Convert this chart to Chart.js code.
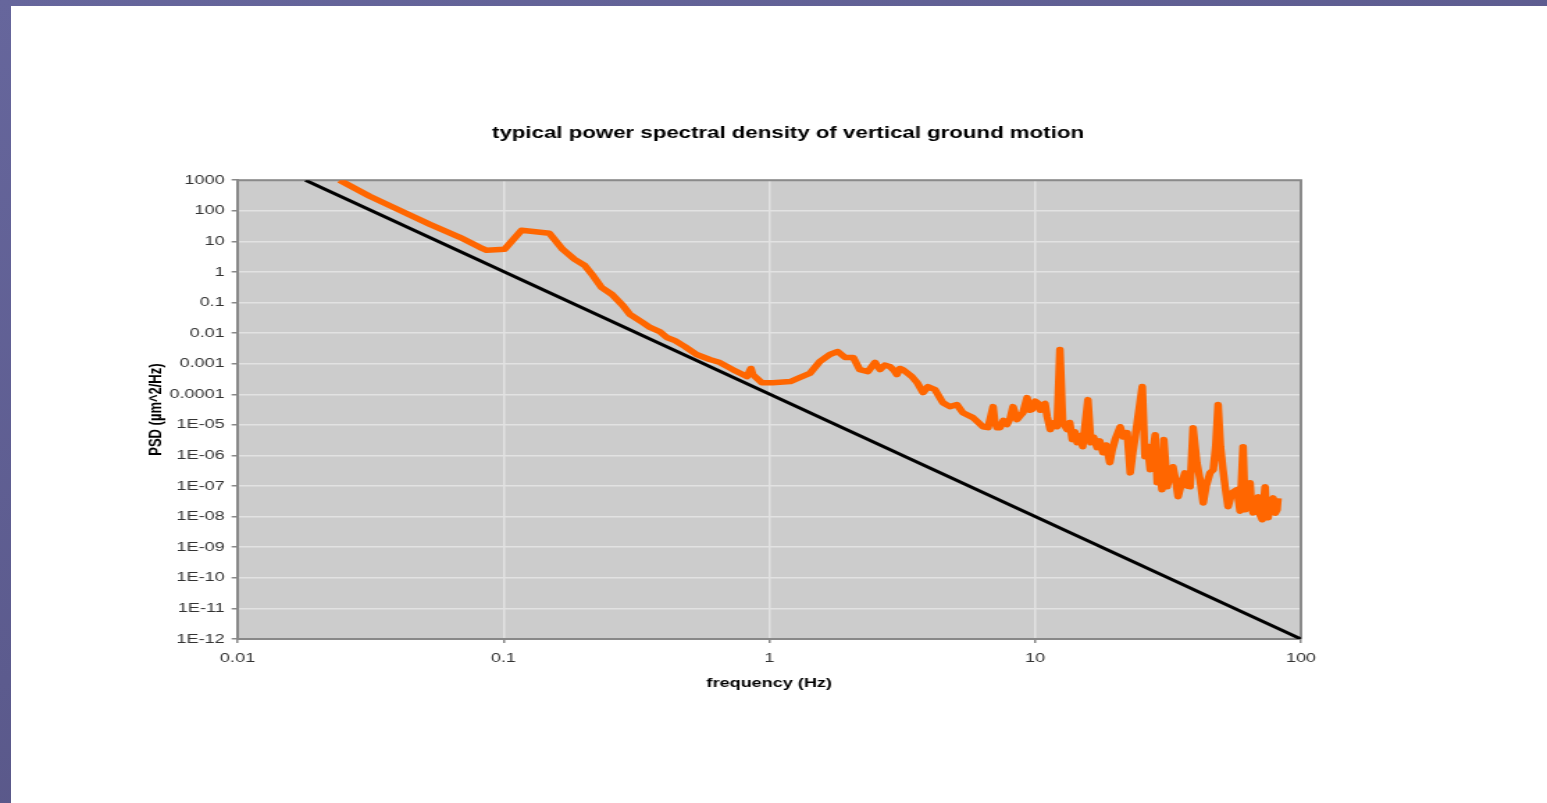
<!DOCTYPE html>
<html>
<head>
<meta charset="utf-8">
<script src="https://cdn.jsdelivr.net/npm/chart.js@4.4.1/dist/chart.umd.min.js"></script>
<style>
  html, body { margin: 0; padding: 0; }
  body {
    width: 1547px; height: 803px; overflow: hidden; position: relative;
    background: linear-gradient(160deg, #66669c 0%, #5c5b8e 50%, #524e7a 100%);
  }
  #slide { position: absolute; left: 11px; top: 6px; width: 1536px; height: 797px; background: #fff; overflow: hidden; }
  /* the slide picture is stretched sideways, so the chart is too */
  #stretch { width: 1105px; height: 797px; transform: scaleX(1.39); transform-origin: 0 0; }
</style>
</head>
<body>
<div id="slide"><div id="stretch"><canvas id="psdChart" width="1105" height="797" style="width:1105px;height:797px"></canvas></div></div>
<script>
const freq = [
    0.0242, 0.0314, 0.0407, 0.0529, 0.0686, 0.0815, 0.0865, 0.101, 0.117, 0.149,
    0.167, 0.185, 0.202, 0.217, 0.234, 0.256, 0.281, 0.299, 0.334, 0.356,
    0.387, 0.412, 0.442, 0.481, 0.533, 0.597, 0.652, 0.730, 0.824, 0.853,
    0.867, 0.938, 1.03, 1.20, 1.30, 1.42, 1.55, 1.69, 1.81, 1.93,
    2.07, 2.19, 2.35, 2.50, 2.61, 2.72, 2.84, 2.95, 3.02, 3.10,
    3.18, 3.30, 3.44, 3.60, 3.79, 3.95, 4.20, 4.50, 4.78, 5.08,
    5.35, 5.84, 6.37, 6.65, 6.95, 7.06, 7.20, 7.38, 7.60, 7.84,
    8.05, 8.26, 8.55, 8.80, 9.00, 9.33, 9.50, 9.73, 10.0, 10.2,
    10.45, 10.7, 10.9, 11.1, 11.4, 11.8, 12.1, 12.4, 12.7, 13.2,
    13.5, 13.8, 14.1, 14.4, 14.8, 15.1, 15.8, 16.2, 16.6, 17.1,
    17.5, 18.0, 18.5, 19.1, 19.5, 20.0, 20.9, 21.5, 22.2, 22.8,
    23.3, 23.8, 24.2, 25.3, 25.9, 26.5, 27.1, 27.7, 28.3, 28.8,
    29.4, 30.0, 30.5, 31.4, 32.2, 33.0, 33.8, 34.5, 35.5, 36.6,
    37.4, 38.3, 39.3, 40.6, 41.8, 42.9, 44.0, 45.5, 46.8, 47.8,
    48.8, 49.8, 50.9, 52.0, 53.2, 55.0, 57.5, 59.0, 60.6, 61.7,
    63.0, 64.4, 65.2, 66.1, 67.4, 68.2, 69.0, 70.3, 71.5, 73.3,
    74.2, 75.3, 76.8, 78.6, 80.0, 81.3, 82.0
];
const psd = [
    1000, 299, 104, 36, 13.6, 6.4, 5.1, 5.5, 23, 18.4,
    5.5, 2.6, 1.64, 0.77, 0.31, 0.185, 0.081, 0.041, 0.0223, 0.0153,
    0.0113, 0.0072, 0.0057, 0.00366, 0.0020, 0.00137, 0.00109, 0.00064, 0.00038, 0.00070,
    0.00044, 0.00024, 0.00024, 0.00026, 0.00035, 0.00048, 0.00118, 0.0020, 0.0025, 0.0016,
    0.0016, 0.00064, 0.00055, 0.0011, 0.00064, 0.0009, 0.00081, 0.0006, 0.00044, 0.0007,
    0.00064, 0.0005, 0.00038, 0.00024, 1.14e-4, 1.79e-4, 1.43e-4, 5.3e-5, 3.95e-5, 4.6e-5,
    2.5e-5, 1.73e-5, 8.7e-6, 8.1e-6, 3.95e-5, 1.18e-5, 8e-6, 8.1e-6, 1.4e-5, 1.02e-5,
    1.6e-5, 3.95e-5, 1.49e-5, 2e-5, 2.5e-5, 7.8e-5, 3e-5, 3.15e-5, 6e-5, 5.3e-5,
    3e-5, 4.6e-5, 5e-5, 1.86e-5, 7.0e-6, 1.2e-5, 8.7e-6, 0.0029, 1.18e-5, 7.0e-6,
    1.2e-5, 3.3e-6, 6e-6, 2.6e-6, 4.5e-6, 1.94e-6, 6.7e-5, 2.6e-6, 4e-6, 1.8e-6,
    3e-6, 1.23e-6, 2.2e-6, 5.8e-7, 1.5e-6, 3.3e-6, 8.7e-6, 4e-6, 5.6e-6, 2.7e-7,
    1.23e-6, 4e-6, 1.18e-5, 1.79e-4, 9.1e-7, 2e-6, 3.4e-7, 1.2e-6, 4.8e-6, 1.28e-7,
    5e-7, 7.6e-8, 3.3e-6, 9.5e-8, 2.5e-7, 4.3e-7, 1.5e-7, 4.5e-8, 1.2e-7, 2.7e-7,
    1e-7, 9.5e-8, 8.1e-6, 5.8e-7, 1.5e-7, 2.8e-8, 1e-7, 2.7e-7, 3.4e-7, 2e-6,
    4.6e-5, 2e-6, 3.4e-7, 8e-8, 2.1e-8, 6e-8, 7.6e-8, 1.5e-8, 1.94e-6, 1.67e-8,
    5e-8, 1.28e-7, 2e-8, 1.33e-8, 4e-8, 1.4e-8, 4.5e-8, 1.1e-8, 7.9e-9, 9.5e-8,
    1.2e-8, 9.2e-9, 3e-8, 4.1e-8, 1.3e-8, 1.67e-8, 4e-8
];

// straight reference line (slope -4 on log-log)
const refFreq = [0.018, 100];
const refPsd = [1000, 1e-12];

const xTickValues = [0.01, 0.1, 1, 10, 100];
const xTickLabels = ['0.01', '0.1', '1', '10', '100'];
const yTickValues = [1000, 100, 10, 1, 0.1, 0.01, 0.001, 0.0001, 1e-5, 1e-6, 1e-7, 1e-8, 1e-9, 1e-10, 1e-11, 1e-12];
const yTickLabels = ['1000', '100', '10', '1', '0.1', '0.01', '0.001', '0.0001', '1E-05', '1E-06', '1E-07', '1E-08', '1E-09', '1E-10', '1E-11', '1E-12'];

const FONT = "'Liberation Sans', Arial, sans-serif";

// grey plot background and the top/right frame
const plotFrame = {
    id: 'plotFrame',
    beforeDraw(chart) {
        const {ctx, chartArea: a} = chart;
        ctx.save();
        ctx.fillStyle = '#cccccc';
        ctx.fillRect(a.left, a.top, a.right - a.left, a.bottom - a.top);
        ctx.restore();
    },
    beforeDatasetsDraw(chart) {
        const {ctx, chartArea: a} = chart;
        ctx.save();
        ctx.strokeStyle = '#8a8a8a';
        ctx.lineWidth = 2;
        ctx.beginPath();
        ctx.moveTo(a.left, a.top);
        ctx.lineTo(a.right, a.top);
        ctx.lineTo(a.right, a.bottom);
        ctx.stroke();
        ctx.restore();
    }
};

const ctx = document.getElementById('psdChart').getContext('2d');
new Chart(ctx, {
    type: 'line',
    data: {
        datasets: [{
            label: 'PSD',
            data: freq.map((f, i) => ({x: f, y: psd[i]})),
            borderColor: '#ff6600',
            borderWidth: 5.5,
            pointRadius: 0,
            tension: 0,
            borderJoinStyle: 'round'
        }, {
            label: 'reference',
            data: refFreq.map((f, i) => ({x: f, y: refPsd[i]})),
            borderColor: '#000000',
            borderWidth: 3,
            pointRadius: 0,
            tension: 0
        }]
    },
    options: {
        responsive: false,
        animation: false,
        layout: {
            padding: {left: 13, right: 0, top: 0, bottom: 108}
        },
        scales: {
            x: {
                type: 'logarithmic',
                min: 0.01,
                max: 100,
                afterBuildTicks: scale => {
                    scale.ticks = xTickValues.map(v => ({value: v}));
                },
                afterFit: scale => {
                    scale.height = 56;
                },
                ticks: {
                    autoSkip: false,
                    maxRotation: 0,
                    padding: 8,
                    color: '#333',
                    font: {family: FONT, size: 13},
                    callback: value => xTickLabels[xTickValues.indexOf(value)]
                },
                grid: {
                    color: '#e2e2e2',
                    lineWidth: 1.5,
                    tickColor: '#888',
                    tickLength: 4
                },
                border: {color: '#888', width: 2},
                title: {
                    display: true,
                    text: 'frequency (Hz)',
                    color: '#000',
                    font: {family: FONT, size: 13, weight: 'bold'},
                    padding: {top: 4, bottom: 4}
                }
            },
            y: {
                type: 'logarithmic',
                min: 1e-12,
                max: 1000,
                afterBuildTicks: scale => {
                    scale.ticks = yTickValues.map(v => ({value: v}));
                },
                afterFit: scale => {
                    scale.width = 150;
                },
                ticks: {
                    autoSkip: false,
                    padding: 5,
                    color: '#333',
                    font: {family: FONT, size: 13},
                    callback: value => yTickLabels[yTickValues.indexOf(value)]
                },
                grid: {
                    color: '#e2e2e2',
                    lineWidth: 1.5,
                    tickColor: '#888',
                    tickLength: 4.3
                },
                border: {color: '#888', width: 2},
                title: {
                    display: true,
                    text: 'PSD (\u00b5m^2/Hz)',
                    color: '#000',
                    font: {family: FONT, size: 13, weight: 'bold'},
                    padding: {top: 84, bottom: 4}
                }
            },
            // empty right-hand box that keeps the plot clear of the slide's right side
            yRight: {
                type: 'linear',
                position: 'right',
                display: true,
                afterFit: scale => {
                    scale.width = 177;
                },
                grid: {display: false},
                ticks: {display: false},
                border: {display: false}
            }
        },
        plugins: {
            legend: {display: false},
            tooltip: {enabled: false},
            title: {
                display: true,
                text: 'typical power spectral density of vertical ground motion',
                color: '#000',
                font: {family: FONT, size: 16, weight: 'bold'},
                padding: {top: 118, bottom: 37}
            }
        }
    },
    plugins: [plotFrame]
});
</script>
</body>
</html>
